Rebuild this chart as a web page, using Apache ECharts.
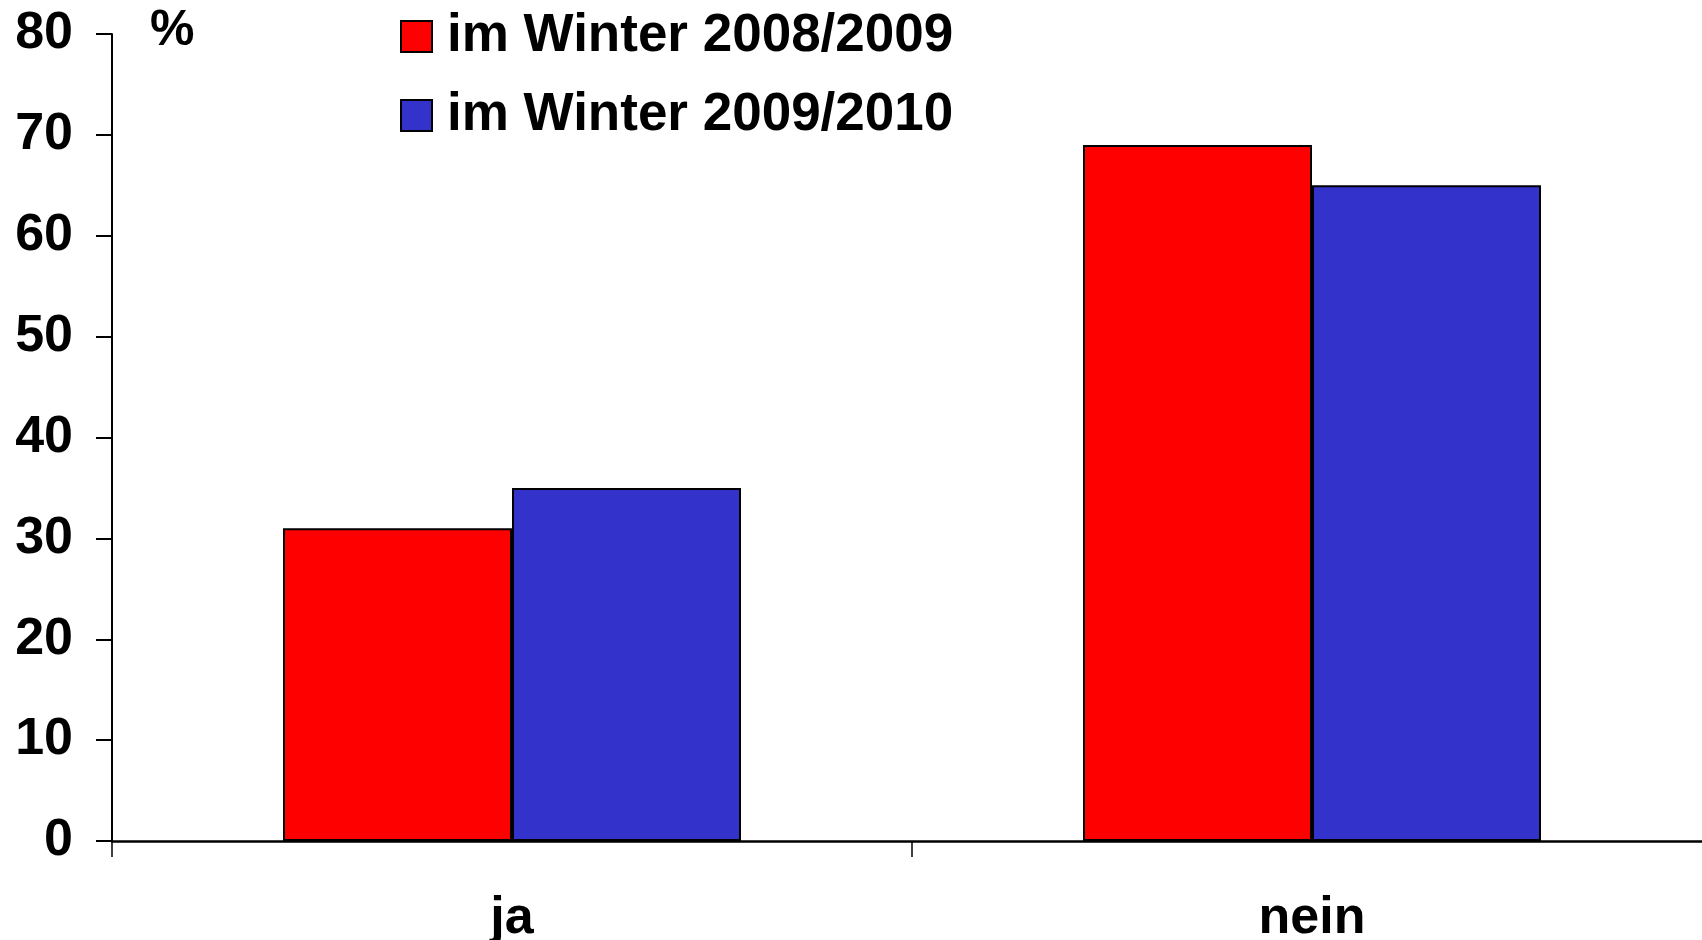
<!DOCTYPE html>
<html>
<head>
<meta charset="utf-8">
<script src="https://cdn.jsdelivr.net/npm/echarts@6/dist/echarts.min.js"></script>
<style>
html,body{margin:0;padding:0;background:#fff;}
#chart{width:1702px;height:940px;}
</style>
</head>
<body>
<div id="chart"></div>
<script>
const categories = ['ja', 'nein'];
const seriesNames = ['im Winter 2008/2009', 'im Winter 2009/2010'];
const winter0809 = [31, 69];
const winter0910 = [35, 65];
const yTicks = [0, 10, 20, 30, 40, 50, 60, 70, 80];
const unitLabel = '%';

const FONT = '"Liberation Sans", Arial, sans-serif';
const chart = echarts.init(document.getElementById('chart'), null, {renderer: 'canvas'});
chart.setOption({
  animation: false,
  backgroundColor: '#ffffff',
  textStyle: {fontFamily: FONT},
  title: {
    text: unitLabel,
    left: 145, top: 1,
    textStyle: {fontFamily: FONT, fontSize: 50, fontWeight: 'bold', color: '#000'}
  },
  legend: {
    orient: 'vertical',
    left: 395, top: 5,
    itemWidth: 31, itemHeight: 31,
    itemGap: 26,
    icon: 'rect',
    data: seriesNames,
    textStyle: {fontFamily: FONT, fontSize: 53, fontWeight: 'bold', color: '#000', lineHeight: 52, padding: [0, 0, 0, 10]}
  },
  grid: {left: 112, right: -10, top: 34, bottom: 99, containLabel: false, outerBoundsMode: 'none'},
  xAxis: {
    type: 'category',
    data: categories,
    boundaryGap: true,
    axisLine: {show: true, lineStyle: {color: '#000', width: 2.5}},
    axisTick: {show: true, length: 16, lineStyle: {color: '#000', width: 1.5}},
    axisLabel: {fontFamily: FONT, fontSize: 52, fontWeight: 'bold', color: '#000', margin: 52}
  },
  yAxis: {
    type: 'value',
    min: yTicks[0], max: yTicks[yTicks.length - 1], interval: yTicks[1] - yTicks[0],
    axisLine: {show: true, lineStyle: {color: '#000', width: 2}},
    axisTick: {show: true, length: 16, lineStyle: {color: '#000', width: 2}},
    splitLine: {show: false},
    axisLabel: {fontFamily: FONT, fontSize: 52, fontWeight: 'bold', color: '#000', margin: 39}
  },
  series: [
    {
      name: seriesNames[0], type: 'bar', data: winter0809,
      barWidth: 229, barGap: '0%',
      itemStyle: {color: '#ff0000', borderColor: '#000', borderWidth: 2}
    },
    {
      name: seriesNames[1], type: 'bar', data: winter0910,
      barWidth: 229, barGap: '0%',
      itemStyle: {color: '#3333cc', borderColor: '#000', borderWidth: 2}
    }
  ]
});
</script>
</body>
</html>
